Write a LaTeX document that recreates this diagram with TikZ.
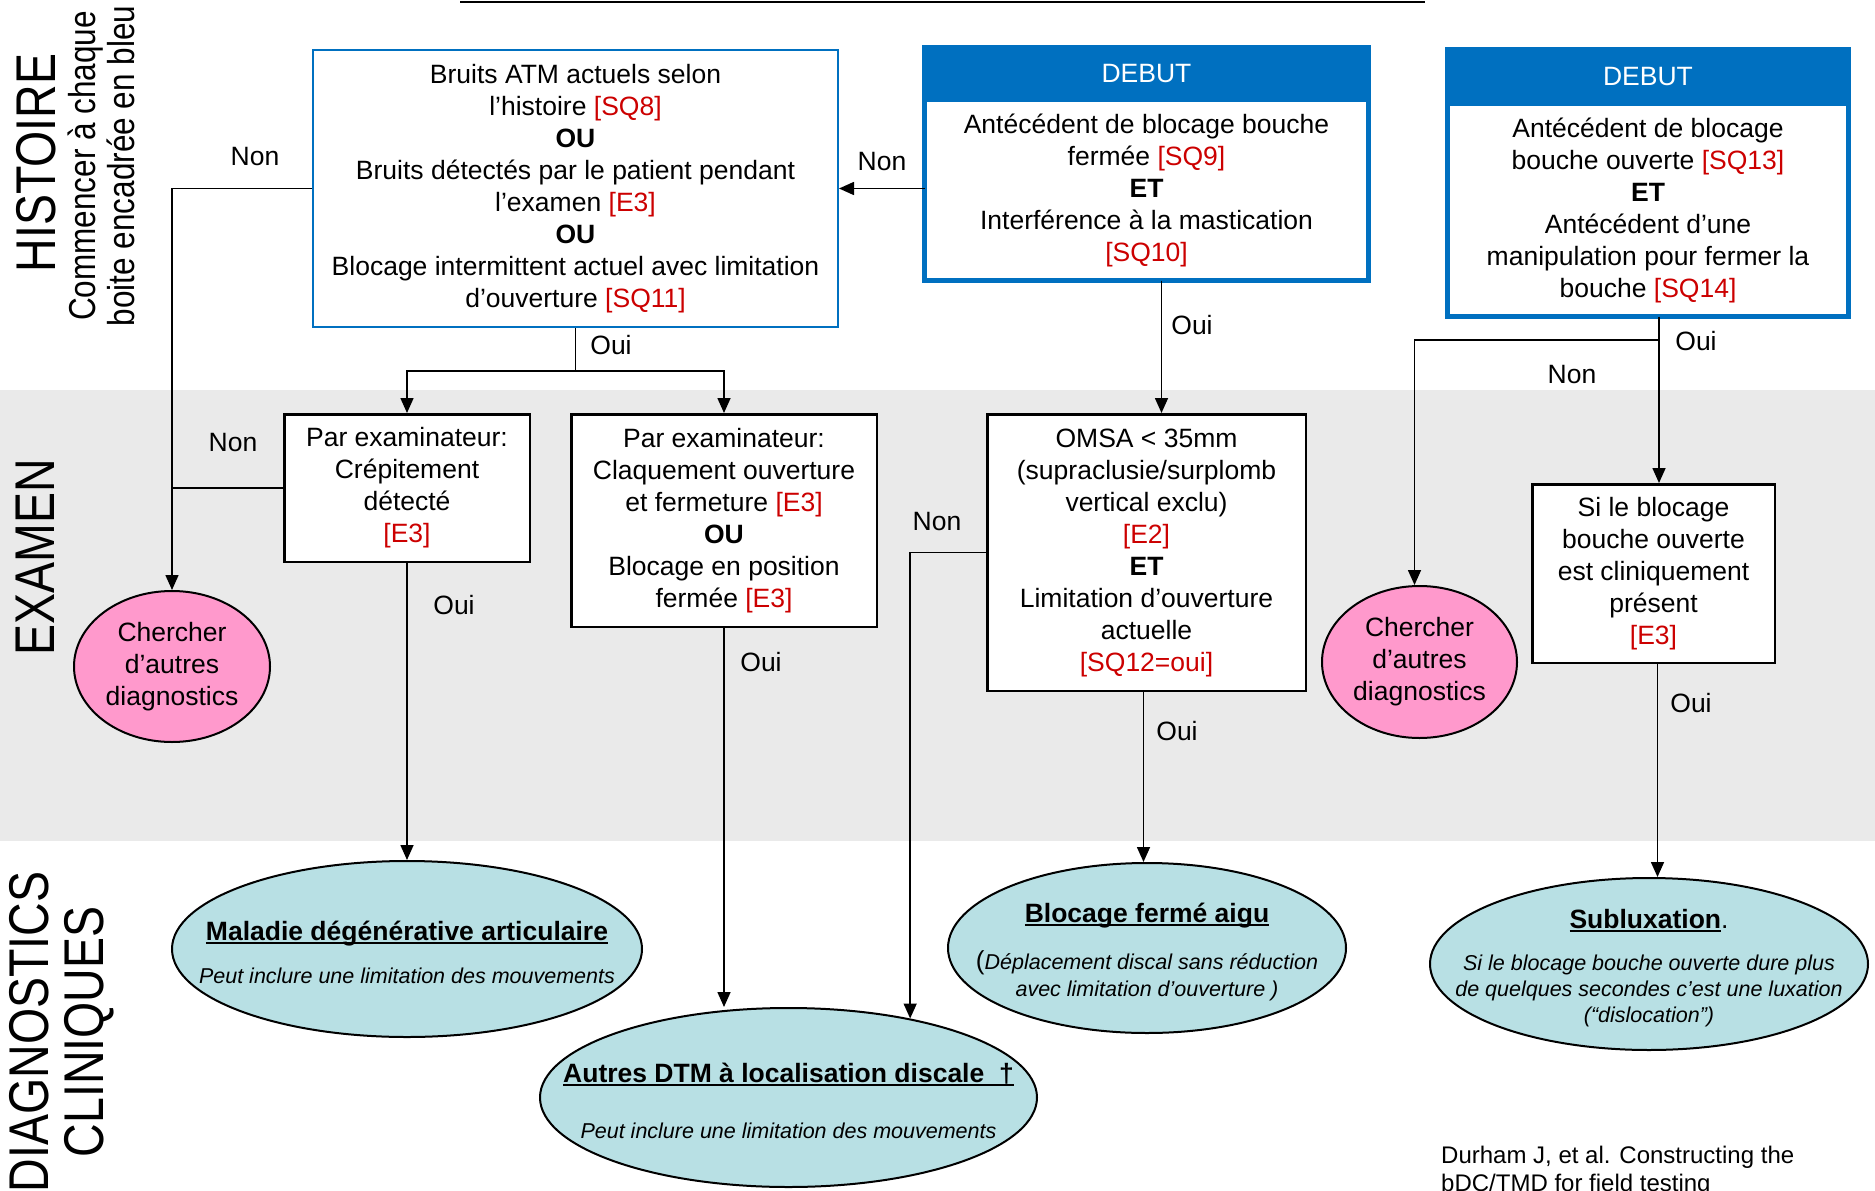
\documentclass[tikz,border=0pt]{standalone}
\usepackage{fontspec}
\setmainfont{Liberation Sans}
\usepackage{tikz}
\usetikzlibrary{shapes.geometric}
\usetikzlibrary{positioning}
\usetikzlibrary{arrows.meta}

\definecolor{debutblue}{HTML}{0070C0}
\definecolor{codered}{HTML}{CC0000}
\definecolor{bandgray}{HTML}{EAEAEA}
\definecolor{diagteal}{HTML}{B8E0E4}
\definecolor{otherpink}{HTML}{FF99CC}

\newcommand{\coderef}[1]{\textcolor{codered}{#1}}
\newcommand{\undertitle}[1]{\setbox0\hbox{#1}\rlap{\rule[-4pt]{\wd0}{2pt}}\box0}

\tikzset{
	boxtext/.style={font=\fontsize{26.5}{32}\selectfont, align=center, inner sep=0pt},
	exambox/.style={boxtext, draw, line width=2.5pt, fill=white},
	histbox/.style={boxtext, draw=debutblue, line width=2pt, fill=white},
	debutbody/.style={boxtext, draw=debutblue, line width=5pt, fill=white, outer sep=0pt},
	debuthead/.style={boxtext, draw=debutblue, line width=5pt, fill=debutblue, text=white, outer sep=0pt},
	othercirc/.style={boxtext, ellipse, draw, line width=2pt, fill=otherpink},
	diagoval/.style={ellipse, draw, line width=2pt, fill=diagteal, inner sep=0pt},
	diagtext/.style={align=center, inner sep=0pt, font=\fontsize{21.5}{26}\selectfont\itshape},
	lbl/.style={font=\fontsize{26.5}{32}\selectfont, inner sep=0pt},
	conn/.style={line width=1.6pt, -{Triangle[length=15pt,width=13pt]}},
	link/.style={line width=1.6pt},
	side/.style={rotate=90, align=center, inner sep=0pt, font=\fontsize{56}{55}\selectfont}
}
\newcommand{\titlefont}{\upshape\bfseries\fontsize{26.5}{26}\selectfont}

\begin{document}
\begin{tikzpicture}[x=1pt,y=-1pt]
	\useasboundingbox (0,0) rectangle (1875,1191);
	\fill[white] (0,0) rectangle (1875,1191);
	\fill[bandgray] (0,390) rectangle (1875,841);
	\draw[line width=2pt] (460,1.5) -- (1425,1.5);

	% bandes
	\node[side] (histoire) at (36,163) {\scalebox{0.83}[1]{HISTOIRE}};
	\node[side, font=\fontsize{37.5}{39}\selectfont] (consigne) at (101.5,166) {\scalebox{0.84}[1]{Commencer à chaque}\\\scalebox{0.84}[1]{boite encadrée en bleu}};
	\node[side] (examen) at (35,557) {\scalebox{0.83}[1]{EXAMEN}};
	\node[side] (diagcl) at (61.5,1032) {\scalebox{0.83}[1]{DIAGNOSTICS}\\\scalebox{0.83}[1]{CLINIQUES}};

	% histoire
	\node[histbox, minimum width=525, minimum height=277] (bruits) at (575.5,188.5) {Bruits ATM actuels selon\\l’histoire \coderef{[SQ8]}\\\textbf{OU}\\Bruits détectés par le patient pendant\\l’examen \coderef{[E3]}\\\textbf{OU}\\Blocage intermittent actuel avec limitation\\d’ouverture \coderef{[SQ11]}};
	\node[debutbody, minimum width=444, minimum height=181] (deb1) at (1146.5,190) {Antécédent de blocage bouche\\fermée \coderef{[SQ9]}\\\textbf{ET}\\Interférence à la mastication\\\coderef{[SQ10]}};
	\node[debuthead, minimum width=444, minimum height=52, above=0pt of deb1] (deb1head) {DEBUT};
	\node[debutbody, minimum width=401, minimum height=213] (deb2) at (1648,210) {Antécédent de blocage\\bouche ouverte \coderef{[SQ13]}\\\textbf{ET}\\Antécédent d’une\\manipulation pour fermer la\\bouche \coderef{[SQ14]}};
	\node[debuthead, minimum width=401, minimum height=54, above=0pt of deb2] (deb2head) {DEBUT};

	% examen
	\node[exambox, minimum width=245.5, minimum height=147.5] (crep) at (407,488) {Par examinateur:\\Crépitement\\détecté\\\coderef{[E3]}};
	\node[exambox, minimum width=305.5, minimum height=212.5] (claq) at (724,520.5) {Par examinateur:\\Claquement ouverture\\et fermeture \coderef{[E3]}\\\textbf{OU}\\Blocage en position\\fermée \coderef{[E3]}};
	\node[exambox, minimum width=318.5, minimum height=276.5] (omsa) at (1146.5,552.5) {OMSA < 35mm\\(supraclusie/surplomb\\vertical exclu)\\\coderef{[E2]}\\\textbf{ET}\\Limitation d’ouverture\\actuelle\\\coderef{[SQ12=oui]}};
	\node[exambox, minimum width=242.5, minimum height=178.5] (sibloc) at (1653.5,573.5) {Si le blocage\\bouche ouverte\\est cliniquement\\présent\\\coderef{[E3]}};
	\node[othercirc, minimum width=196, minimum height=151] (autreL) at (172,666.5) {Chercher\\d’autres\\diagnostics};
	\node[othercirc, minimum width=195, minimum height=152] (autreR) at (1419.5,662) {Chercher\\d’autres\\diagnostics};

	% diagnostics
	\node[diagoval, minimum width=470, minimum height=176] (mal) at (407,949) {};
	\node[diagtext] (maltext) at (407,952.5) {{\titlefont\undertitle{Maladie dégénérative articulaire}}\\[17.5pt]Peut inclure une limitation des mouvements};
	\node[diagoval, minimum width=497, minimum height=179] (aut) at (788.5,1097.5) {};
	\node[diagtext] (auttext) at (788.5,1100.7) {{\titlefont\undertitle{Autres DTM à localisation discale \ †}}\\[30.5pt]Peut inclure une limitation des mouvements};
	\node[diagoval, minimum width=398, minimum height=170] (bfa) at (1147,948) {};
	\node[diagtext] (bfatext) at (1147,952.2) {{\titlefont\undertitle{Blocage fermé aigu}}\\[21.5pt]{\upshape\fontsize{26}{26}\selectfont(}Déplacement discal sans réduction\\[1pt]avec limitation d’ouverture )};
	\node[diagoval, minimum width=438, minimum height=172] (sub) at (1649,964) {};
	\node[diagtext] (subtext) at (1649,968.2) {{\titlefont\undertitle{Subluxation}{\mdseries.}}\\[16.5pt]Si le blocage bouche ouverte dure plus\\de quelques secondes c’est une luxation\\(“dislocation”)};

	\node[anchor=west, align=left, inner sep=0pt, font=\fontsize{24}{28}\selectfont] (durham) at (1441,1171) {Durham J, et al. Constructing the\\bDC/TMD for field testing};

	% connecteurs
	\draw[conn] (bruits.west) -| (autreL.north);
	\draw[link] (crep.west) -- (crep.west -| autreL.north);
	\draw[conn] (deb1.west |- bruits.east) -- (bruits.east);
	\draw[link] (bruits.south) -- ++(0,43) coordinate (fork1);
	\draw[conn] (fork1) -| (crep.north);
	\draw[conn] (fork1) -| (claq.north);
	\draw[conn] ([xshift=15pt]deb1.south) -- ([xshift=15pt]deb1.south |- omsa.north);
	\draw[link] ([xshift=11pt]deb2.south) -- ++(0,23.5) coordinate (fork2);
	\draw[conn] (fork2) -- (fork2 |- sibloc.north);
	\draw[conn] (fork2) -| ([xshift=-5pt]autreR.north);
	\draw[conn] (crep.south) -- (mal.north);
	\draw[conn] (claq.south) -- (claq.south |- aut.north);
	\draw[conn] (omsa.west) -| (aut.33);
	\draw[conn] ([xshift=-3pt]omsa.south) -- ([xshift=-3pt]omsa.south |- bfa.north);
	\draw[conn] ([xshift=4pt]sibloc.south) -- ([xshift=4pt]sibloc.south |- sub.north);

	% etiquettes
	\node[lbl] (non1) at (255,157) {Non};
	\node[lbl] (non2) at (233,443) {Non};
	\node[lbl] (non3) at (882,162) {Non};
	\node[lbl] (oui1) at (611,345) {Oui};
	\node[lbl] (oui2) at (1192,325) {Oui};
	\node[lbl] (oui3) at (1696,341) {Oui};
	\node[lbl] (non4) at (1572,375) {Non};
	\node[lbl] (oui4) at (454,605) {Oui};
	\node[lbl] (oui5) at (761,662) {Oui};
	\node[lbl] (non5) at (937,522) {Non};
	\node[lbl] (oui6) at (1177,731) {Oui};
	\node[lbl] (oui7) at (1691,703) {Oui};
\end{tikzpicture}
\end{document}
